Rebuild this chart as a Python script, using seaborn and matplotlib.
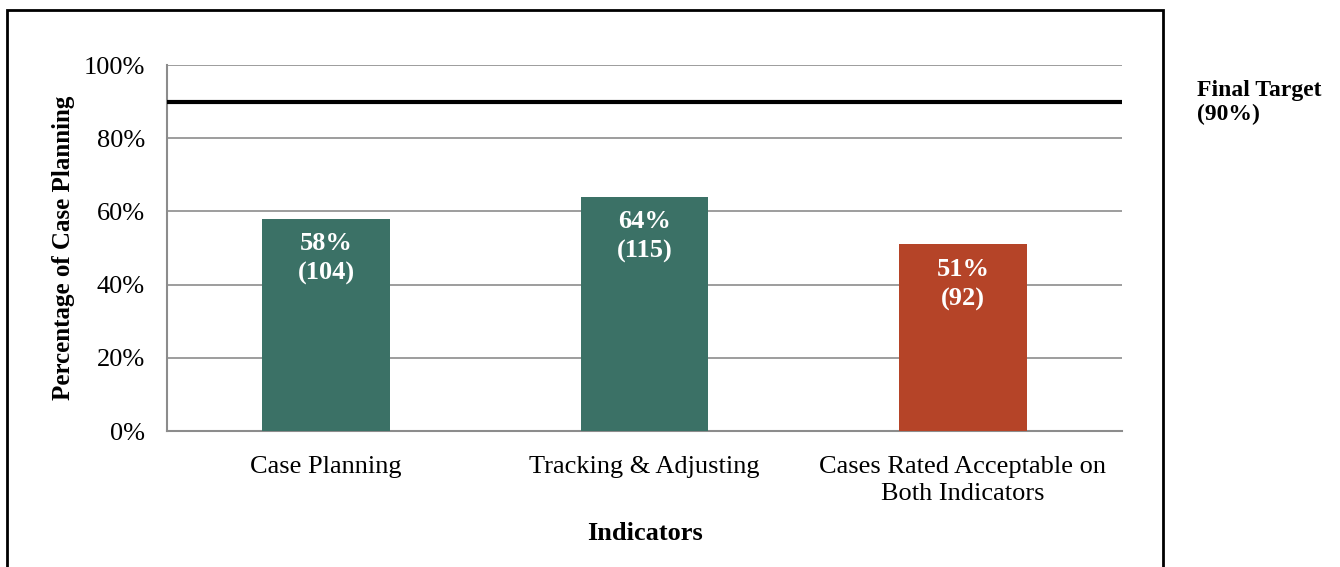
import matplotlib
matplotlib.use("Agg")
import matplotlib.pyplot as plt
import matplotlib.patches as mpatches
import seaborn as sns

# data
categories = ["Case Planning", "Tracking & Adjusting",
              "Cases Rated Acceptable on\nBoth Indicators"]
percentages = [0.58, 0.64, 0.51]
counts = [104, 115, 92]
bar_colors = ["#3b7166", "#3b7166", "#b54428"]
target = 0.90
y_ticks = [0, 0.2, 0.4, 0.6, 0.8, 1.0]

sns.set_style("white")
plt.rcParams['font.family'] = ['Liberation Serif', 'DejaVu Serif']
plt.rcParams['text.color'] = 'black'
plt.rcParams['axes.labelcolor'] = 'black'
plt.rcParams['xtick.color'] = 'black'
plt.rcParams['ytick.color'] = 'black'

fig = plt.figure(figsize=(13.4, 5.67), dpi=100)
ax = fig.add_axes([167 / 1340, 136 / 567, 955 / 1340, 366 / 567])

sns.barplot(x=categories, y=percentages, hue=categories, palette=bar_colors,
            width=0.4, legend=False, saturation=1, linewidth=0, ax=ax, zorder=3)

ax.set_xlim(-0.5, len(categories) - 0.5)
ax.set_ylim(0, 1.0)

# gridlines and target line
ax.set_yticks(y_ticks)
ax.set_yticklabels([f"{int(round(t * 100))}%" for t in y_ticks], fontsize=19)
ax.yaxis.grid(True, color="#8c8c8c", linewidth=1.2, zorder=0)
ax.set_axisbelow(True)
ax.axhline(target, color="black", linewidth=3, zorder=4)

# category boundaries get the tick marks, labels sit at the bar centers
ax.set_xticks([i - 0.5 for i in range(len(categories) + 1)])
ax.set_xticklabels([])
ax.set_xticks(range(len(categories)), minor=True)
ax.set_xticklabels(categories, minor=True, fontsize=19, va="top")
ax.tick_params(axis="x", which="major", length=7, color="#8c8c8c", width=1.2, direction="out")
ax.tick_params(axis="x", which="minor", length=0, pad=18)
ax.tick_params(axis="y", length=0, pad=16)
for lbl in ax.get_xticklabels(minor=True):
    lbl.set_linespacing(1.3)

for side in ["top", "right"]:
    ax.spines[side].set_visible(False)
for side in ["left", "bottom"]:
    ax.spines[side].set_color("#8c8c8c")
    ax.spines[side].set_linewidth(1.5)

ax.set_xlabel("Indicators", fontsize=19, fontweight="bold", labelpad=12)
ax.set_ylabel("Percentage of Case Planning", fontsize=18, fontweight="bold", labelpad=6)

# value labels inside the bars
for i, (p, n) in enumerate(zip(percentages, counts)):
    ax.text(i, p - 0.037, f"{int(round(p * 100))}%\n({n})", ha="center", va="top",
            color="white", fontsize=19, fontweight="bold", linespacing=1.35, zorder=5)

fig.text(1197 / 1340, 1 - 80 / 567, "Final Target\n(90%)", ha="left", va="top",
         fontsize=17, fontweight="bold", linespacing=1.15)

# outer frame around the chart area
frame = mpatches.Rectangle((7 / 1340, -0.02), (1163 - 7) / 1340, 1 - 10 / 567 + 0.02,
                           transform=fig.transFigure, fill=False, edgecolor="black",
                           linewidth=2, clip_on=False)
fig.patches.append(frame)

fig.savefig("out.png", dpi=100)
